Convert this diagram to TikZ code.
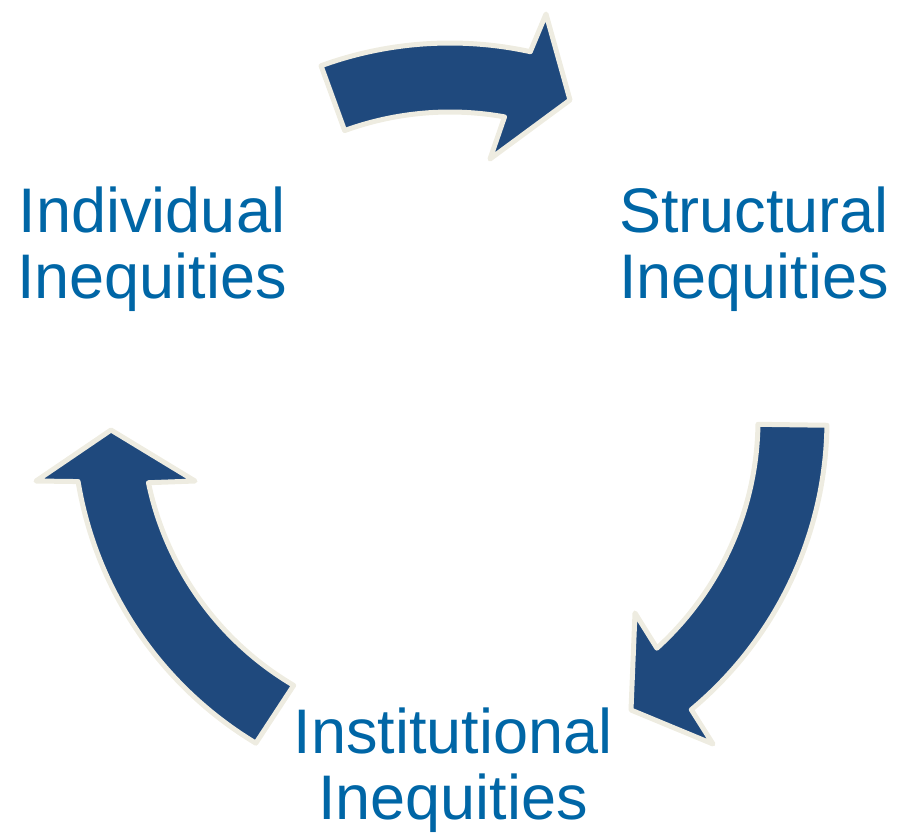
\documentclass[tikz,border=0pt]{standalone}
\usepackage{fontspec}
\setmainfont{Liberation Sans}
\usetikzlibrary{calc}
\definecolor{arrowblue}{HTML}{1F497D}
\definecolor{arrowedge}{HTML}{EEECE1}
\definecolor{textblue}{HTML}{0066A6}
\tikzset{
  arrowbody/.style={fill=arrowblue, draw=arrowedge, line width=5pt, line join=round},
  label/.style={text=textblue, font=\fontsize{63}{66}\selectfont, align=center, inner sep=0pt}
}
\begin{document}
\begin{tikzpicture}[x=1pt,y=-1pt]
\useasboundingbox (0,0) rectangle (897,833);
\coordinate (C) at (450,420);
% top arrow
\draw[arrowbody] ($(C)+(-110:377)$) arc[start angle=-110,end angle=-77.7,radius=377]
  -- (546,14) -- (570,100) -- (490,159)
  -- ($(C)+(-79.8:308)$) arc[start angle=-79.8,end angle=-110,radius=308] -- cycle;
% right arrow
\draw[arrowbody] ($(C)+(0.8:377)$) arc[start angle=0.8,end angle=50.2,radius=377]
  -- (713,744) -- (631,710) -- (635,613)
  -- ($(C)+(47.8:308)$) arc[start angle=47.8,end angle=0.8,radius=308] -- cycle;
% left arrow
\draw[arrowbody] ($(C)+(121:377)$) arc[start angle=121,end angle=170.6,radius=377]
  -- (36,481) -- (111,430) -- (195,481)
  -- ($(C)+(168.25:308)$) arc[start angle=168.25,end angle=120.5,radius=308] -- cycle;
% labels
\node[label] (ind) at (152,249.5) {Individual\\Inequities};
\node[label] (str) at (754,249.5) {Structural\\Inequities};
\node[label] (ins) at (453,770.5) {Institutional\\Inequities};
\end{tikzpicture}
\end{document}
